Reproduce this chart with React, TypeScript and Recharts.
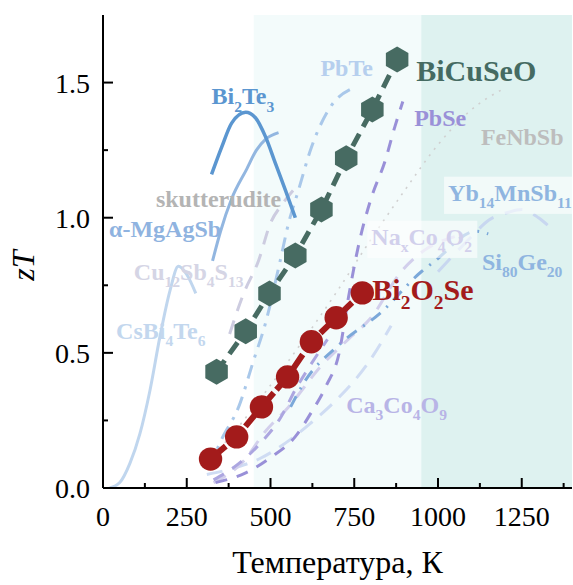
import React from 'react';
import { LineChart, Line, XAxis, YAxis, ReferenceArea, ReferenceDot } from 'recharts';

const W = 573;
const H = 585;
const FONT = "'Liberation Serif', 'Times New Roman', serif";

// ---- axis ticks ----
const xTicks = [0, 125, 250, 375, 500, 625, 750, 875, 1000, 1125, 1250, 1375];
const yTicks = [0, 0.25, 0.5, 0.75, 1, 1.25, 1.5];
const xMajor = [0, 250, 500, 750, 1000, 1250];
const yMajor = [0, 0.5, 1, 1.5];

// ---- main series ----
const biCuSeO = [[339, 0.43], [426, 0.58], [497, 0.72], [574, 0.86], [652, 1.03], [726, 1.22], [804, 1.4], [878, 1.585]];
const bi2O2Se = [[321, 0.107], [399, 0.189], [473, 0.3], [551, 0.411], [622, 0.541], [696, 0.63], [774, 0.722]];

// ---- literature series ----
const csBi4Te6 = [[20, 0], [50, 0.02], [80, 0.09], [110, 0.2], [140, 0.36], [170, 0.56], [200, 0.73], [225, 0.82], [250, 0.79], [277, 0.72]];
const bi2Te3 = [[324, 1.16], [354, 1.26], [384, 1.35], [426, 1.39], [455, 1.37], [485, 1.3], [515, 1.2], [545, 1.1], [574, 1.0]];
const mgAgSb = [[327, 0.84], [351, 0.95], [384, 1.07], [429, 1.18], [458, 1.25], [485, 1.29], [524, 1.315]];
const pbTe = [[315, 0.07], [354, 0.18], [405, 0.3], [449, 0.47], [485, 0.61], [527, 0.83], [554, 0.98], [583, 1.1], [622, 1.26], [679, 1.41], [747, 1.48]];
const skutterudite = [[378, 0.57], [420, 0.72], [464, 0.84], [500, 0.98], [535, 1.05], [574, 1.11]];
const pbSe = [[336, 0.02], [426, 0.056], [503, 0.115], [574, 0.19], [622, 0.28], [667, 0.38], [705, 0.5], [732, 0.7], [765, 0.91], [800, 1.07], [842, 1.21], [872, 1.34], [895, 1.43]];
const purple2 = [[330, 0.03], [405, 0.09], [473, 0.17], [530, 0.26], [577, 0.37], [622, 0.46], [670, 0.55]];
const naxCo4O2 = [[330, 0.02], [420, 0.1], [485, 0.21], [554, 0.3], [650, 0.45], [732, 0.55], [800, 0.63], [890, 0.8], [960, 0.88], [1050, 0.93]];
const ca3Co4O9 = [[310, 0.05], [380, 0.07], [470, 0.11], [560, 0.18], [620, 0.24], [700, 0.33], [790, 0.46], [860, 0.6]];
const si80Ge20 = [[560, 0.3], [600, 0.39], [705, 0.53], [830, 0.65], [950, 0.8], [991, 0.84], [1113, 0.95], [1150, 0.94]];
const yb14MnSb11 = [[1000, 0.8], [1100, 0.93], [1150, 0.99], [1210, 1.02], [1250, 1.03], [1300, 1.0], [1330, 0.97]];
const feNbSb = [[300, 0.08], [400, 0.22], [500, 0.38], [600, 0.55], [700, 0.73], [800, 0.92], [900, 1.1], [1000, 1.27], [1100, 1.4], [1200, 1.48]];

// ---- annotation labels: [text, t, zT, colour, size, boxWidth] ----
const labels: [string, number, number, string, number, number][] = [
  ['Bi_{2}Te_{3}', 324, 1.419, '#5b96d0', 24, 0],
  ['PbTe', 649, 1.526, '#b6cfee', 24, 0],
  ['BiCuSeO', 935, 1.504, '#456b62', 30, 0],
  ['PbSe', 929, 1.341, '#9a90d8', 24, 0],
  ['FeNbSb', 1128, 1.27, '#bdbdbd', 24, 0],
  ['skutterudite', 158, 1.041, '#b4b4b4', 24, 0],
  ['Yb_{14}MnSb_{11}', 1030, 1.063, '#8fb5e0', 24, 130],
  ['α-MgAgSb', 18, 0.93, '#8fb3e0', 24, 0],
  ['Na_{x}Co_{4}O_{2}', 801, 0.9, '#d2d0ec', 24, 110],
  ['Si_{80}Ge_{20}', 1131, 0.807, '#8fb5e0', 24, 0],
  ['Cu_{12}Sb_{4}S_{13}', 92, 0.77, '#d5d5e5', 24, 0],
  ['Bi_{2}O_{2}Se', 804, 0.696, '#a31b1b', 30, 0],
  ['CsBi_{4}Te_{6}', 39, 0.552, '#c3d7ee', 24, 0],
  ['Ca_{3}Co_{4}O_{9}', 726, 0.278, '#b8b4e6', 24, 0],
];

const pts = (a: number[][]) => a.map(([t, z]) => ({ t, z }));
const tStyle = { fontFamily: FONT };

const XTickBottom = (p: any) => {
  const { x, y, payload } = p;
  const major = xMajor.includes(payload.value);
  return (
    <g>
      <line x1={x} x2={x} y1={y} y2={y - (major ? 10 : 5)} stroke="#000" strokeWidth={2} />
      {major && (
        <text x={x} y={y + 38} textAnchor="middle" fontSize={28} style={tStyle} fill="#000">
          {payload.value}
        </text>
      )}
    </g>
  );
};
const XTickTop = (p: any) => {
  const { x, y, payload } = p;
  const major = xMajor.includes(payload.value);
  return <line x1={x} x2={x} y1={y} y2={y + (major ? 10 : 5)} stroke="#000" strokeWidth={2} />;
};
const YTickLeft = (p: any) => {
  const { x, y, payload } = p;
  const major = yMajor.includes(payload.value);
  return (
    <g>
      <line x1={x} x2={x + (major ? 10 : 5)} y1={y} y2={y} stroke="#000" strokeWidth={2} />
      {major && (
        <text x={x - 13} y={y + 10} textAnchor="end" fontSize={28} style={tStyle} fill="#000">
          {payload.value.toFixed(1)}
        </text>
      )}
    </g>
  );
};
const YTickRight = (p: any) => {
  const { x, y, payload } = p;
  const major = yMajor.includes(payload.value);
  return <line x1={x} x2={x - (major ? 10 : 5)} y1={y} y2={y} stroke="#000" strokeWidth={2} />;
};

const renderRich = (s: string, fs: number) => {
  const parts = s.split(/(_\{[^}]*\})/).filter((q) => q.length > 0);
  const out: any[] = [];
  let sub = false;
  parts.forEach((q, i) => {
    if (q.startsWith('_{')) {
      out.push(
        <tspan key={i} dy={sub ? 0 : fs * 0.3} fontSize={fs * 0.65}>
          {q.slice(2, -1)}
        </tspan>
      );
      sub = true;
    } else {
      out.push(
        <tspan key={i} dy={sub ? -fs * 0.3 : 0} fontSize={fs}>
          {q}
        </tspan>
      );
      sub = false;
    }
  });
  return out;
};

const makeLabel = (text: string, color: string, fs: number, box: number) => (p: any) => {
  const { cx, cy } = p;
  return (
    <g>
      {box > 0 && (
        <rect x={cx - 4} y={cy - fs * 1.0} width={box} height={fs * 1.55} fill="#ffffff" fillOpacity={0.6} />
      )}
      <text x={cx} y={cy} fill={color} style={tStyle} fontWeight="bold" fontSize={fs}>
        {renderRich(text, fs)}
      </text>
    </g>
  );
};

const hexDot = (p: any) => {
  const { cx, cy, index } = p;
  if (cx == null || cy == null) return <g key={`h${index}`} />;
  const r = 13;
  const points = [0, 1, 2, 3, 4, 5]
    .map((i) => {
      const a = ((-90 + 60 * i) * Math.PI) / 180;
      return `${cx + r * Math.cos(a)},${cy + r * Math.sin(a)}`;
    })
    .join(' ');
  return <polygon key={`h${index}`} points={points} fill="#476b62" />;
};

const circDot = (p: any) => {
  const { cx, cy, index } = p;
  if (cx == null || cy == null) return <g key={`c${index}`} />;
  return <circle key={`c${index}`} cx={cx} cy={cy} r={11.7} fill="#a31b1b" />;
};

const faint: [string, number[][], string, string, number][] = [
  ['FeNbSb', feNbSb, '#d0d0d0', '2 6', 1.6],
  ['CsBi4Te6', csBi4Te6, '#c0d6ee', '', 3],
  ['Ca3Co4O9', ca3Co4O9, '#cfdcf3', '16 10', 3],
  ['NaxCo4O2', naxCo4O2, '#d2cfec', '14 10', 3],
  ['Yb14MnSb11', yb14MnSb11, '#c8d7f0', '18 12', 3],
  ['Si80Ge20', si80Ge20, '#7ba8d9', '12 8 2 8', 3],
  ['purple2', purple2, '#aca6e0', '12 10', 3],
  ['PbSe', pbSe, '#9990d8', '12 10', 3],
  ['skutterudite', skutterudite, '#cdcce0', '14 10', 3],
  ['PbTe', pbTe, '#a9c8ea', '14 8 3 8', 3],
  ['MgAgSb', mgAgSb, '#92b6e0', '', 3],
  ['Bi2Te3', bi2Te3, '#5b96d0', '', 3.5],
];

export default function App() {
  return (
    <div style={{ position: 'absolute', left: 0, top: 0, width: W, height: H, background: '#fff', fontFamily: FONT }}>
      <LineChart width={W} height={H} margin={{ top: 15, right: 1, bottom: 57, left: 43 }} style={{ fontFamily: FONT }}>
        <XAxis
          dataKey="t"
          type="number"
          domain={[0, 1400]}
          ticks={xTicks}
          interval={0}
          height={40}
          tickLine={false}
          tickSize={0}
          tickMargin={0}
          tick={<XTickBottom />}
          axisLine={{ stroke: '#000', strokeWidth: 2 }}
          allowDataOverflow
          label={{
            content: (lp: any) => {
              const vb = lp.viewBox;
              return (
                <text x={vb.x + vb.width / 2} y={vb.y + 85} textAnchor="middle" fontSize={32} style={tStyle} fill="#000">
                  Температура, К
                </text>
              );
            },
          }}
        />
        <XAxis
          xAxisId="top"
          orientation="top"
          dataKey="t"
          type="number"
          domain={[0, 1400]}
          ticks={xTicks}
          interval={0}
          height={0}
          tickLine={false}
          tickSize={0}
          tickMargin={0}
          tick={<XTickTop />}
          axisLine={{ stroke: '#000', strokeWidth: 2 }}
        />
        <YAxis
          type="number"
          domain={[0, 1.75]}
          ticks={yTicks}
          interval={0}
          width={60}
          tickLine={false}
          tickSize={0}
          tickMargin={0}
          tick={<YTickLeft />}
          axisLine={{ stroke: '#000', strokeWidth: 2 }}
          allowDataOverflow
          label={{
            content: (lp: any) => {
              const vb = lp.viewBox;
              const cx = vb.x - 9;
              const cy = vb.y + vb.height / 2 + 14;
              return (
                <text
                  x={cx}
                  y={cy}
                  transform={`rotate(-90 ${cx} ${cy})`}
                  textAnchor="middle"
                  fontSize={32}
                  fontStyle="italic"
                  style={tStyle}
                  fill="#000"
                >
                  zT
                </text>
              );
            },
          }}
        />
        <YAxis
          yAxisId="right"
          orientation="right"
          type="number"
          domain={[0, 1.75]}
          ticks={yTicks}
          interval={0}
          width={0}
          tickLine={false}
          tickSize={0}
          tickMargin={0}
          tick={<YTickRight />}
          axisLine={{ stroke: '#000', strokeWidth: 2 }}
        />
        <ReferenceArea x1={450} x2={950} y1={0} y2={1.75} fill="#f3fbfb" fillOpacity={1} stroke="none" />
        <ReferenceArea x1={950} x2={1400} y1={0} y2={1.75} fill="#def2f0" fillOpacity={1} stroke="none" />

        {faint.map(([name, arr, color, dash, w]) => (
          <Line
            key={name}
            name={name}
            data={pts(arr)}
            dataKey="z"
            type="monotone"
            stroke={color}
            strokeWidth={w}
            strokeDasharray={dash || undefined}
            dot={false}
            activeDot={false}
            isAnimationActive={false}
          />
        ))}

        <Line
          name="BiCuSeO"
          data={pts(biCuSeO)}
          dataKey="z"
          type="linear"
          stroke="#476b62"
          strokeWidth={5}
          strokeDasharray="14 8"
          dot={hexDot}
          activeDot={false}
          isAnimationActive={false}
        />
        <Line
          name="Bi2O2Se"
          data={pts(bi2O2Se)}
          dataKey="z"
          type="linear"
          stroke="#a31b1b"
          strokeWidth={6}
          strokeDasharray="20 4"
          dot={circDot}
          activeDot={false}
          isAnimationActive={false}
        />

        {labels.map(([text, t, z, color, fs, box]) => (
          <ReferenceDot
            key={text}
            x={t}
            y={z}
            r={0}
            ifOverflow="visible"
            shape={makeLabel(text, color, fs, box)}
          />
        ))}
      </LineChart>
    </div>
  );
}
